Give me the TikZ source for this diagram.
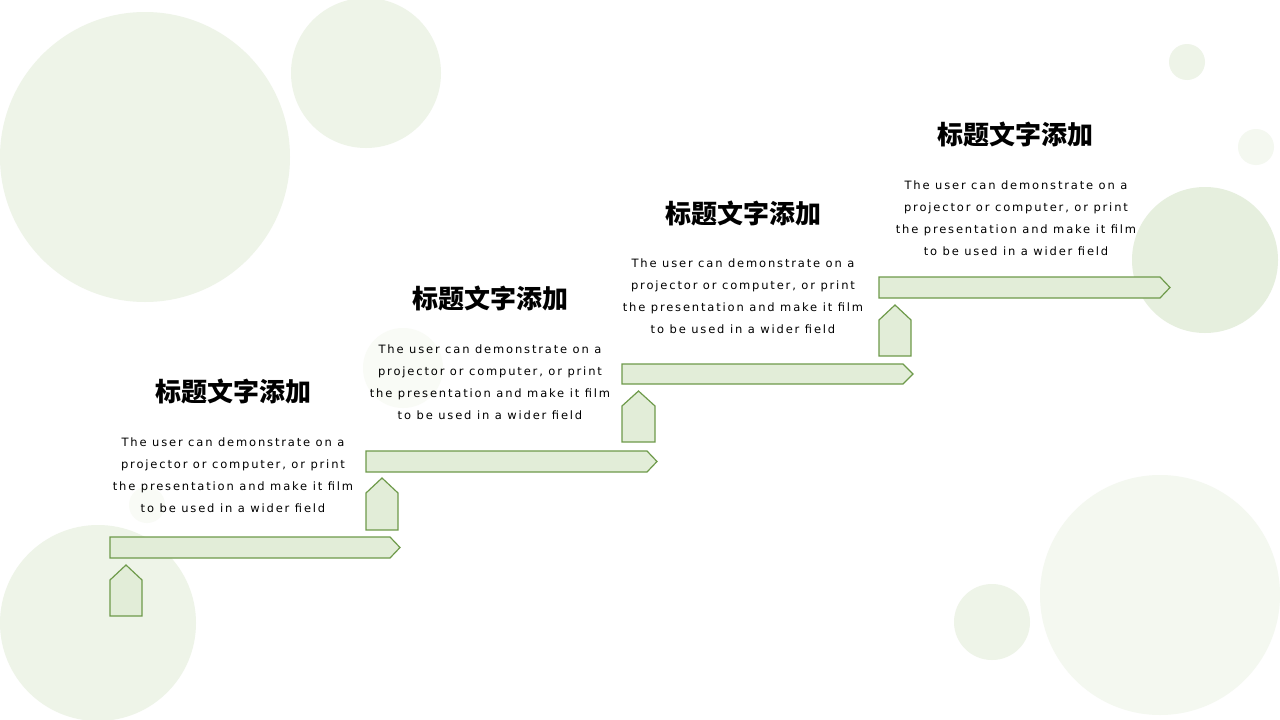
\documentclass[tikz,border=0pt]{standalone}
\usepackage{fontspec}
\setmainfont{DejaVu Sans}[LetterSpace=16]
\newfontfamily\cjk{Noto Sans CJK SC}
\definecolor{leaf}{HTML}{6E9A4A}
\definecolor{leaffill}{HTML}{E2EDD8}
\definecolor{bubble}{HTML}{EEF4E8}
\definecolor{bubbledark}{HTML}{E6EFDE}
\definecolor{bubblepale}{HTML}{F4F8F0}
\definecolor{bubblefaint}{HTML}{F9FBF6}

\begin{document}
\begin{tikzpicture}[x=1pt,y=-1pt,
                    bar/.style={draw=leaf,fill=leaffill,line width=1.2pt,line join=miter},
                    title/.style={font=\cjk\bfseries\fontsize{26}{30}\selectfont},
                    body/.style={align=center,text=black,font=\fontsize{11.5}{22}\selectfont}]
\useasboundingbox (0,0) rectangle (1280,720);
\fill[white] (0,0) rectangle (1280,720);

\fill[bubble] (145,157) circle (145);
\fill[bubble] (366,73) circle (75);
\fill[bubble] (1187,62) circle (18);
\fill[bubblepale] (1256,147) circle (18);
\fill[bubbledark] (1205,260) circle (73);
\fill[bubble] (98,623) circle (98);
\fill[bubblepale] (1160,595) circle (120);
\fill[bubble] (992,622) circle (38);
\fill[bubblefaint] (403,368) circle (40);
\fill[bubblefaint] (147,505) circle (18);

\draw[bar] (110,537) -- (390,537) -- (400,547.5) -- (390,558) -- (110,558) -- cycle;
\draw[bar] (110,616) -- ++(0,-36) -- ++(16,-15) -- ++(16,15) -- ++(0,36) -- cycle;
\draw[bar] (366,451) -- (647,451) -- (657,461.5) -- (647,472) -- (366,472) -- cycle;
\draw[bar] (366,530) -- ++(0,-37) -- ++(16,-15) -- ++(16,15) -- ++(0,37) -- cycle;
\draw[bar] (622,364) -- (903,364) -- (913,374) -- (903,384) -- (622,384) -- cycle;
\draw[bar] (622,442) -- ++(0,-36) -- ++(16.5,-15) -- ++(16.5,15) -- ++(0,36) -- cycle;
\draw[bar] (879,277) -- (1160,277) -- (1170,287.5) -- (1160,298) -- (879,298) -- cycle;
\draw[bar] (879,356) -- ++(0,-36) -- ++(16,-15) -- ++(16,15) -- ++(0,36) -- cycle;

\node[title] (t1) at (233,391) {标题文字添加};
\node[body] (d1) at (233,475) {The user can demonstrate on a\\projector or computer, or print\\the presentation and make it film\\to be used in a wider field};
\node[title] (t2) at (490,298) {标题文字添加};
\node[body] (d2) at (490,382) {The user can demonstrate on a\\projector or computer, or print\\the presentation and make it film\\to be used in a wider field};
\node[title] (t3) at (743,213) {标题文字添加};
\node[body] (d3) at (743,296.5) {The user can demonstrate on a\\projector or computer, or print\\the presentation and make it film\\to be used in a wider field};
\node[title] (t4) at (1015,134) {标题文字添加};
\node[body] (d4) at (1016,218) {The user can demonstrate on a\\projector or computer, or print\\the presentation and make it film\\to be used in a wider field};
\end{tikzpicture}
\end{document}
